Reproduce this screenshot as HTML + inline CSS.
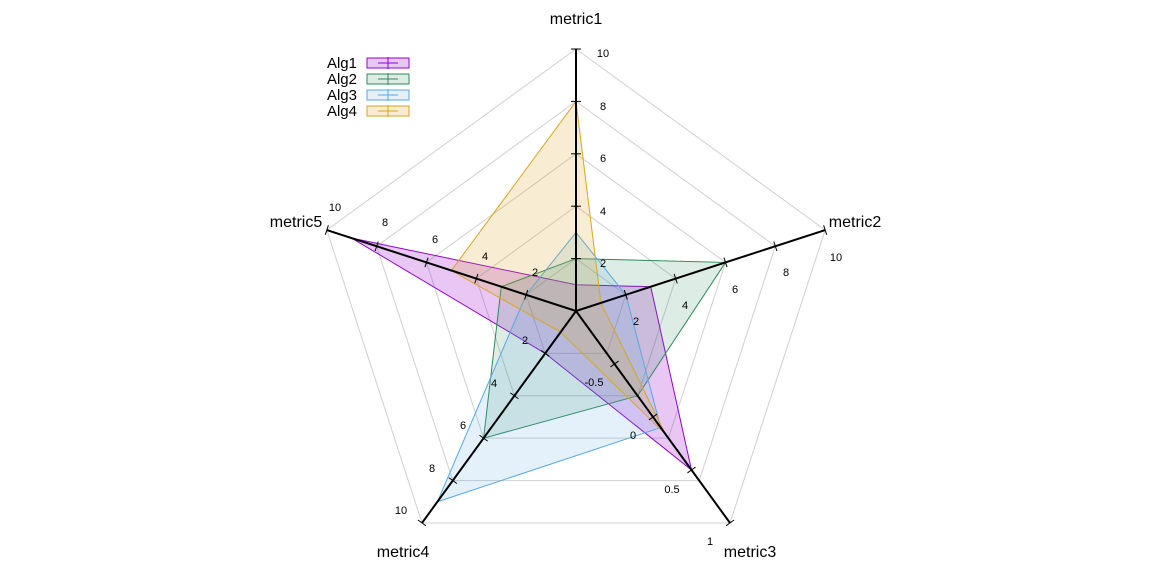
<!DOCTYPE html>
<html><head><meta charset="utf-8"><style>
html,body{margin:0;padding:0;background:#fff;}
svg text{font-family:"Liberation Sans",sans-serif;}
</style></head><body>
<svg id="s" width="1152" height="576" xmlns="http://www.w3.org/2000/svg"></svg>
<script>
const s=document.getElementById('s');
const cx=576,cy=311,R=262;
const ang=[-90,-18,54,126,198].map(a=>a*Math.PI/180);
function P(i,f){return [cx+R*f*Math.cos(ang[i]),cy+R*f*Math.sin(ang[i])];}
let h='';
for(let k=1;k<=5;k++){let f=k/5;h+=`<polygon points="${ang.map((a,i)=>P(i,f).join(',')).join(' ')}" fill="none" stroke="#d0d0d0" stroke-width="1"/>`;}
const ser=[
 ['#9400d3','rgba(148,0,211,0.22)',[0.1,0.3,0.75,0.2,0.9]],
 ['#2e8b57','rgba(46,139,87,0.16)',[0.2,0.6,0.4,0.6,0.3]],
 ['#56a8e8','rgba(86,168,232,0.16)',[0.3,0.2,0.55,0.9,0.2]],
 ['#daa520','rgba(218,165,32,0.2)',[0.8,0.1,0.58,0.1,0.5]]];
ser.forEach(([c,fc,v])=>{h+=`<polygon points="${v.map((f,i)=>P(i,f).join(',')).join(' ')}" fill="${fc}" stroke="${c}" stroke-width="1"/>`;});
for(let i=0;i<5;i++){const e=P(i,1);h+=`<line x1="${cx}" y1="${cy}" x2="${e[0]}" y2="${e[1]}" stroke="#000" stroke-width="2"/>`;
 const st=i==2?0.25:0.2;const px=-Math.sin(ang[i]),py=Math.cos(ang[i]);
 for(let f=st;f<=1.001;f+=st){const p=P(i,f);h+=`<line x1="${p[0]-px*5}" y1="${p[1]-py*5}" x2="${p[0]+px*5}" y2="${p[1]+py*5}" stroke="#000" stroke-width="1"/>`;}}
const T=(x,y,t,a='middle')=>h+=`<text x="${x}" y="${y}" font-size="11" text-anchor="${a}">${t}</text>`;
[[263,'2'],[211,'4'],[158,'6'],[106,'8'],[53,'10']].forEach(([y,t])=>T(603,y+4,t));
[[636,325,'2'],[685,309,'4'],[735,293,'6'],[786,276,'8'],[836,261,'10']].forEach(a=>T(...a));
[[594,386,'-0.5'],[633,439,'0'],[672,493,'0.5'],[710,545,'1']].forEach(a=>T(...a));
[[525,344,'2'],[494,387,'4'],[463,429,'6'],[432,472,'8'],[401,514,'10']].forEach(a=>T(...a));
[[535,276,'2'],[485,260,'4'],[435,243,'6'],[385,226,'8'],[335,211,'10']].forEach(a=>T(...a));
const N=(x,y,t)=>h+=`<text x="${x}" y="${y}" font-size="16" text-anchor="middle">${t}</text>`;
N(576,24,'metric1');N(855,227,'metric2');N(750,557,'metric3');N(403,557,'metric4');N(296,227,'metric5');
ser.forEach(([c,fc],k)=>{const y=63+k*16;
 h+=`<text x="357" y="${y+5}" font-size="15" text-anchor="end">Alg${k+1}</text>`;
 h+=`<rect x="367" y="${y-5}" width="42" height="10" fill="${fc}" stroke="${c}" stroke-width="1"/>`;
 h+=`<line x1="378" y1="${y}" x2="398" y2="${y}" stroke="${c}"/><line x1="388" y1="${y-6}" x2="388" y2="${y+6}" stroke="${c}"/>`;});
s.innerHTML=h;
</script>
</body></html>
